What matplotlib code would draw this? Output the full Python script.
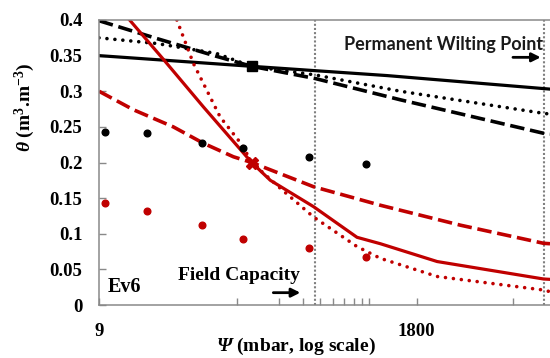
"""Ev6 retention curves: theta vs psi (log scale)."""
import matplotlib
matplotlib.use("Agg")
import matplotlib.pyplot as plt
from matplotlib.ticker import FixedLocator, NullFormatter

RED = "#c00000"
GREY = "#898989"

# observed points
psi_obs = [10, 20, 50, 100, 300, 770]
theta_obs_black = [0.243, 0.241, 0.228, 0.220, 0.208, 0.198]
theta_obs_red = [0.143, 0.132, 0.112, 0.092, 0.080, 0.067]

# matching point of each family
psi_match = 115
theta_match_black = 0.335
theta_match_red = 0.200

# black curves
psi_bk_solid = [9, 115, 1100, 16700]
theta_bk_solid = [0.350, 0.335, 0.322, 0.303]
psi_bk_dash = [9, 23.6, 64, 115, 330, 1375, 15000, 16700]
theta_bk_dash = [0.399, 0.374, 0.349, 0.335, 0.318, 0.288, 0.241, 0.240]
psi_bk_dot = [9, 23.6, 64, 115, 330, 1375, 15000, 16700]
theta_bk_dot = [0.375, 0.367, 0.353, 0.335, 0.323, 0.300, 0.269, 0.268]

# red curves
psi_rd_solid = [15, 26.3, 51.4, 115, 157, 323, 667, 985, 2540, 15000, 16700]
theta_rd_solid = [0.400, 0.345, 0.278, 0.200, 0.175, 0.138, 0.095, 0.086, 0.061, 0.0365, 0.036]
psi_rd_dash = [9, 16, 31.1, 51.4, 84.9, 115, 323, 985, 3750, 15000, 16700]
theta_rd_dash = [0.300, 0.274, 0.250, 0.227, 0.208, 0.200, 0.166, 0.140, 0.112, 0.0866, 0.086]
psi_rd_dot = [33, 43.5, 67.9, 80.3, 97.7, 115, 185, 323, 667, 985, 2540, 15000, 16700]
theta_rd_dot = [0.400, 0.339, 0.264, 0.246, 0.225, 0.200, 0.164, 0.1235, 0.082, 0.0655, 0.040, 0.021, 0.0187]

FIELD_CAPACITY = 330
WILTING_POINT = 15000

y_ticks = [0, 0.05, 0.1, 0.15, 0.2, 0.25, 0.3, 0.35, 0.4]
y_labels = ["0", "0.05", "0.1", "0.15", "0.2", "0.25", "0.3", "0.35", "0.4"]
x_ticks = [9, 1800]
x_labels = ["9", "1800"]
x_minor = [90, 180, 270, 360, 450, 540, 630, 720, 810, 9000]

plt.rcParams["mathtext.fontset"] = "custom"
plt.rcParams["mathtext.rm"] = "Liberation Serif:bold"
plt.rcParams["mathtext.it"] = "Liberation Serif:italic:bold"
plt.rcParams["mathtext.bf"] = "Liberation Serif:bold"
plt.rcParams["mathtext.bfit"] = "Liberation Serif:italic:bold"
SERIF = dict(family="Liberation Serif", weight="bold")

fig = plt.figure(figsize=(5.5, 3.58), dpi=100)
ax = fig.add_axes([99 / 550, 53 / 358, 451 / 550, 285 / 358])

dash = (0, (4, 1.6))
dot = (0, (0.01, 2.2))

ax.axvline(FIELD_CAPACITY, color="#808080", lw=1.5, ls=(0, (1, 1)), zorder=1)
ax.axvline(WILTING_POINT, color="#808080", lw=1.5, ls=(0, (1, 1)), zorder=1)

ax.plot(psi_bk_solid, theta_bk_solid, color="black", lw=2.3)
ax.plot(psi_bk_dash, theta_bk_dash, color="black", lw=2.6, ls=dash)
ax.plot(psi_bk_dot, theta_bk_dot, color="black", lw=2.6, ls=dot,
        dash_capstyle="round")
ax.plot(psi_rd_solid, theta_rd_solid, color=RED, lw=2.3)
ax.plot(psi_rd_dash, theta_rd_dash, color=RED, lw=2.6, ls=dash)
ax.plot(psi_rd_dot, theta_rd_dot, color=RED, lw=2.6, ls=dot,
        dash_capstyle="round")

ax.plot(psi_obs, theta_obs_black, "o", color="black", ms=4.8, zorder=4)
ax.plot(psi_obs, theta_obs_red, "o", color=RED, ms=4.8, zorder=4)
ax.plot([psi_match], [theta_match_black], "s", color="black", ms=7, zorder=5)
ax.plot([psi_match], [theta_match_red], "X", color=RED, ms=9, zorder=5)

ax.set_xscale("log")
ax.set_xlim(9, 16700)
ax.set_ylim(0, 0.4)
ax.set_xticks(x_ticks)
ax.set_xticklabels(x_labels, fontdict=SERIF, fontsize=13.5)
ax.xaxis.set_minor_locator(FixedLocator(x_minor))
ax.xaxis.set_minor_formatter(NullFormatter())
ax.set_yticks(y_ticks)
ax.set_yticklabels(y_labels, fontdict=SERIF, fontsize=13.5)
ax.tick_params(axis="both", which="both", direction="in", length=5,
               width=1, color=GREY)
ax.tick_params(axis="x", which="major", pad=13)
ax.tick_params(axis="y", which="major", pad=12)
for side in ("left", "bottom", "top"):
    ax.spines[side].set_color(GREY)
    ax.spines[side].set_linewidth(1.1)
ax.spines["right"].set_visible(False)

ax.text(15000, 0.358, "Permanent Wilting Point", ha="right", va="baseline",
        family="Lato", weight="bold", fontsize=13, color="#1a1a1a")
ax.annotate("", xy=(14300, 0.3476), xytext=(9000, 0.3476),
            arrowprops=dict(arrowstyle="-|>", color="black", lw=2,
                            mutation_scale=13, shrinkA=0, shrinkB=0))
ax.text(258, 0.041, "Field Capacity", ha="right", va="center",
        fontsize=14, **SERIF)
ax.annotate("", xy=(259, 0.0173), xytext=(165, 0.0173),
            arrowprops=dict(arrowstyle="-|>", color="black", lw=2,
                            mutation_scale=13, shrinkA=0, shrinkB=0))
ax.text(10.4, 0.0253, "Ev6", ha="left", va="center", fontsize=14.5, **SERIF)

fig.text(25 / 550, 1 - 107 / 358, r"$\mathbfit{\theta}$ (m$^{3}$.m$^{-3}$)",
         rotation=90, ha="center", va="center", fontsize=14, **SERIF)
fig.text(296 / 550, 1 - 346 / 358, r"$\mathbfit{\Psi}$ (mbar, log scale)",
         ha="center", va="center", fontsize=14, **SERIF)

fig.savefig("out.png", dpi=100)
